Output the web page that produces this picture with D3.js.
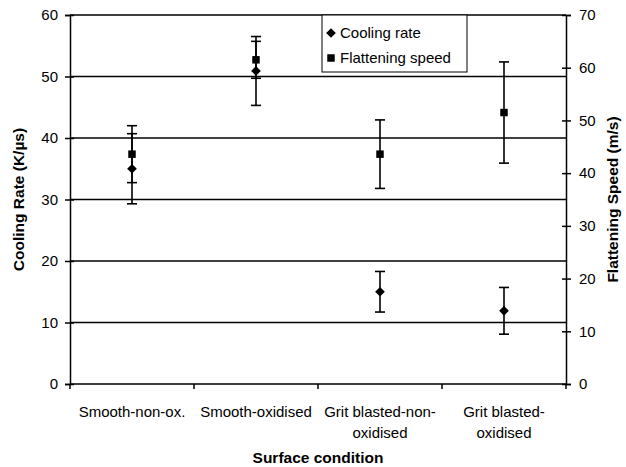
<!DOCTYPE html>
<html><head><meta charset="utf-8">
<script src="https://cdn.jsdelivr.net/npm/d3@7"></script>
<style>
body{margin:0;background:#fff;}
svg text{font-family:"Liberation Sans",Arial,sans-serif;fill:#000;}
</style></head>
<body><svg id="chart" width="626" height="467"></svg>
<script>
const categories = ["Smooth-non-ox.", "Smooth-oxidised", "Grit blasted-non-oxidised", "Grit blasted-oxidised"];
const categoryLabelLines = [["Smooth-non-ox."], ["Smooth-oxidised"], ["Grit blasted-non-", "oxidised"], ["Grit blasted-", "oxidised"]];
const coolingRate = [35.0, 50.9, 15.0, 11.9];
const coolingErr = [5.7, 5.6, 3.3, 3.8];
const flatteningSpeed = [43.6, 61.5, 43.6, 51.5];
const flatteningErr = [5.4, 3.5, 6.5, 9.6];
const leftTicks = [0, 10, 20, 30, 40, 50, 60];
const rightTicks = [0, 10, 20, 30, 40, 50, 60, 70];
const legendLabels = ["Cooling rate", "Flattening speed"];

const svg = d3.select("#chart");
const m = {left: 70, right: 566, top: 15, bottom: 384};

const x = d3.scaleBand().domain(categories).range([m.left, m.right]).padding(0);
const yL = d3.scaleLinear().domain([0, 60]).range([m.bottom, m.top]);
const yR = d3.scaleLinear().domain([0, 70]).range([m.bottom, m.top]);

// gridlines
svg.append("g").selectAll("line").data(leftTicks.filter(d => d > 0)).join("line")
  .attr("x1", m.left).attr("x2", m.right)
  .attr("y1", d => yL(d)).attr("y2", d => yL(d))
  .attr("stroke", "#000").attr("stroke-width", 1.6);

// left axis
const gL = svg.append("g").attr("transform", `translate(${m.left},0)`)
  .call(d3.axisLeft(yL).tickValues(leftTicks).tickSize(5).tickPadding(7).tickFormat(d3.format("d")));
gL.select(".domain").attr("stroke", "#000").attr("stroke-width", 1.5);
gL.selectAll(".tick line").attr("x1", 4).attr("x2", -5).attr("stroke-width", 1.5);
gL.selectAll(".tick text").style("font-size", "15px");

// right axis
const gR = svg.append("g").attr("transform", `translate(${m.right},0)`)
  .call(d3.axisRight(yR).tickValues(rightTicks).tickSize(5).tickPadding(8).tickFormat(d3.format("d")));
gR.select(".domain").attr("stroke", "#000").attr("stroke-width", 1.5);
gR.selectAll(".tick line").attr("x1", -4).attr("x2", 5).attr("stroke-width", 1.5);
gR.selectAll(".tick text").style("font-size", "15px");

// x axis
const gX = svg.append("g");
gX.append("line").attr("x1", m.left).attr("x2", m.right).attr("y1", m.bottom).attr("y2", m.bottom)
  .attr("stroke", "#000").attr("stroke-width", 1.6);
const bounds = categories.map(c => x(c)).concat([x(categories[categories.length - 1]) + x.bandwidth()]);
gX.selectAll("line.t").data(bounds).join("line").attr("class", "t")
  .attr("x1", d => d).attr("x2", d => d).attr("y1", m.bottom).attr("y2", m.bottom + 5)
  .attr("stroke", "#000").attr("stroke-width", 1.5);
categories.forEach((c, i) => {
  const t = gX.append("text").attr("x", x(c) + x.bandwidth() / 2).attr("y", 417)
    .attr("text-anchor", "middle").style("font-size", "15px");
  categoryLabelLines[i].forEach((ln, j) => {
    t.append("tspan").attr("x", x(c) + x.bandwidth() / 2).attr("dy", j === 0 ? 0 : 21).text(ln);
  });
});

// axis titles
svg.append("text").attr("x", (m.left + m.right) / 2).attr("y", 463).attr("text-anchor", "middle")
  .style("font-size", "15.5px").style("font-weight", "bold").text("Surface condition");
svg.append("text").attr("transform", `translate(24,${(m.top + m.bottom) / 2}) rotate(-90)`)
  .attr("text-anchor", "middle").style("font-size", "15.5px").style("font-weight", "bold").text("Cooling Rate (K/µs)");
svg.append("text").attr("transform", `translate(618,${(m.top + m.bottom) / 2}) rotate(-90)`)
  .attr("text-anchor", "middle").style("font-size", "15.5px").style("font-weight", "bold").text("Flattening Speed (m/s)");

// error bars
function errorBars(vals, errs, scale) {
  const g = svg.append("g").attr("stroke", "#000").attr("stroke-width", 1.6);
  vals.forEach((v, i) => {
    const cx = x(categories[i]) + x.bandwidth() / 2;
    const yt = scale(v + errs[i]), yb = scale(v - errs[i]);
    g.append("line").attr("x1", cx).attr("x2", cx).attr("y1", yt).attr("y2", yb);
    g.append("line").attr("x1", cx - 5).attr("x2", cx + 5).attr("y1", yt).attr("y2", yt);
    g.append("line").attr("x1", cx - 5).attr("x2", cx + 5).attr("y1", yb).attr("y2", yb);
  });
}
errorBars(flatteningSpeed, flatteningErr, yR);
errorBars(coolingRate, coolingErr, yL);

const diamond = d3.symbol().type(d3.symbolDiamond2).size(60);
const square = d3.symbol().type(d3.symbolSquare).size(56);
svg.append("g").selectAll("path").data(flatteningSpeed).join("path")
  .attr("d", square).attr("fill", "#000")
  .attr("transform", (d, i) => `translate(${x(categories[i]) + x.bandwidth() / 2},${yR(d)})`);
svg.append("g").selectAll("path").data(coolingRate).join("path")
  .attr("d", diamond).attr("fill", "#000")
  .attr("transform", (d, i) => `translate(${x(categories[i]) + x.bandwidth() / 2},${yL(d)})`);

// legend
const lg = svg.append("g");
lg.append("rect").attr("x", 322).attr("y", 15).attr("width", 145).attr("height", 57)
  .attr("fill", "#fff").attr("stroke", "#000").attr("stroke-width", 1);
lg.append("path").attr("d", diamond).attr("fill", "#000").attr("transform", "translate(331,33)");
lg.append("path").attr("d", square).attr("fill", "#000").attr("transform", "translate(331,58)");
lg.append("text").attr("x", 340).attr("y", 38).style("font-size", "15px").text(legendLabels[0]);
lg.append("text").attr("x", 340).attr("y", 63).style("font-size", "15px").text(legendLabels[1]);
</script></body></html>
